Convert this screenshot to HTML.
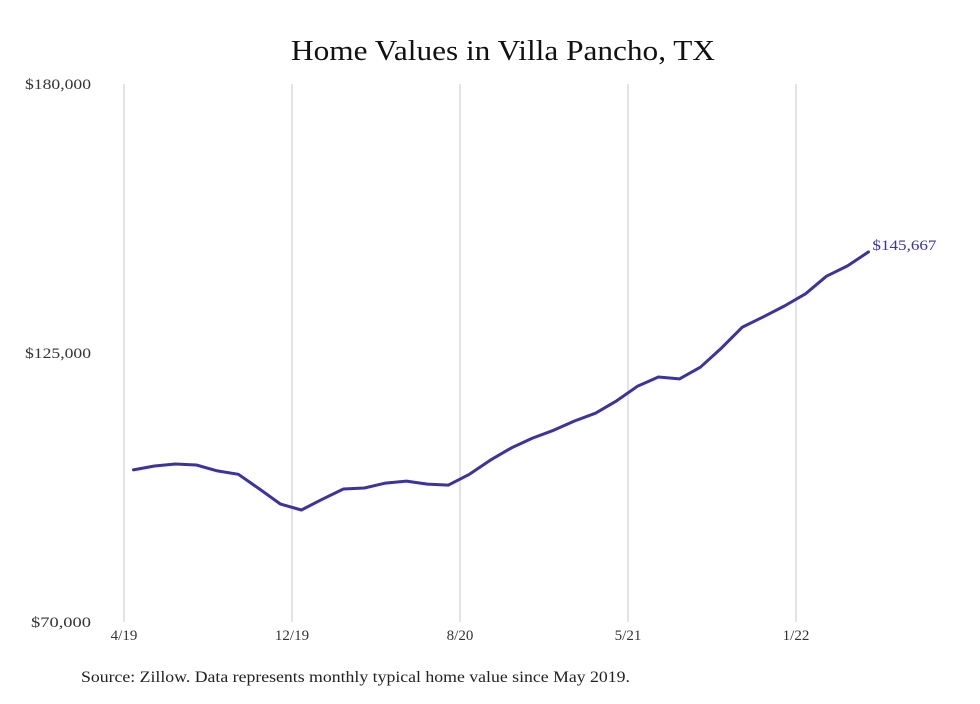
<!DOCTYPE html>
<html><head><meta charset="utf-8"><style>
html,body{margin:0;padding:0;background:#fff;}
body{width:980px;height:699px;overflow:hidden;font-family:"Liberation Serif",serif;}
</style></head><body>
<svg id="chart" width="980" height="699" xmlns="http://www.w3.org/2000/svg">
<text x="291" y="60" textLength="424" lengthAdjust="spacingAndGlyphs" font-size="29" fill="#111" font-family="Liberation Serif, serif">Home Values in Villa Pancho, TX</text>
<g id="grid"></g>
<g id="yaxis"></g>
<g id="xaxis"></g>
<g id="series"></g>
<text x="81" y="682" textLength="549" lengthAdjust="spacingAndGlyphs" font-size="16" fill="#222" font-family="Liberation Serif, serif">Source: Zillow. Data represents monthly typical home value since May 2019.</text>
</svg>
<script>
const yTicks=[70000,125000,180000];
const yTickLabels=["$70,000","$125,000","$180,000"];
const xTickIdx=[0,8,16,24,32];
const xTickLabels=["4/19","12/19","8/20","5/21","1/22"];
const values=[101100,101900,102300,102100,100900,100200,97200,94100,92900,95100,97200,97400,98400,98800,98200,98000,100200,103100,105600,107600,109200,111100,112700,115200,118200,120100,119700,122100,126000,130300,132400,134600,137100,140700,142800,145667];
const lastLabel="$145,667";
const NS="http://www.w3.org/2000/svg";
const y=v=>622-(v-70000)/110000*538;
const xm=m=>124+m*21;
const xi=i=>xm(i+0.45);
const grid=document.getElementById('grid'),ya=document.getElementById('yaxis'),xa=document.getElementById('xaxis'),se=document.getElementById('series');
function mk(t,a,p){const e=document.createElementNS(NS,t);for(const k in a)e.setAttribute(k,a[k]);p.appendChild(e);return e;}
xTickIdx.forEach((m,i)=>{
 const l=mk('line',{x1:xm(m),x2:xm(m),y1:84,y2:622,stroke:'#c8c8c8','stroke-width':1},grid);
 
 
 const t=mk('text',{x:xm(m),y:640,'text-anchor':'middle','font-size':15,fill:'#333'},xa);
 t.textContent=xTickLabels[i];
 
 
});
yTicks.forEach((v,i)=>{
 const len=yTickLabels[i].length>7?66:60;
 const t=mk('text',{x:91-len,y:y(v)+5,'font-size':15,fill:'#333',textLength:len,lengthAdjust:'spacingAndGlyphs'},ya);
 t.textContent=yTickLabels[i];
 
 
});
const d=values.map((v,i)=>(i?'L':'M')+xi(i).toFixed(1)+','+y(v).toFixed(1)).join(' ');
const p=mk('path',{d:d,fill:'none',stroke:'#3b33a0','stroke-width':3,'stroke-linejoin':'round','stroke-linecap':'round'},se);


const n=values.length-1;
const lt=mk('text',{x:xi(n)+4,y:y(values[n])-2,'font-size':15,fill:'#3b33a0',textLength:64,lengthAdjust:'spacingAndGlyphs'},se);
lt.textContent=lastLabel;


</script>
</body></html>
